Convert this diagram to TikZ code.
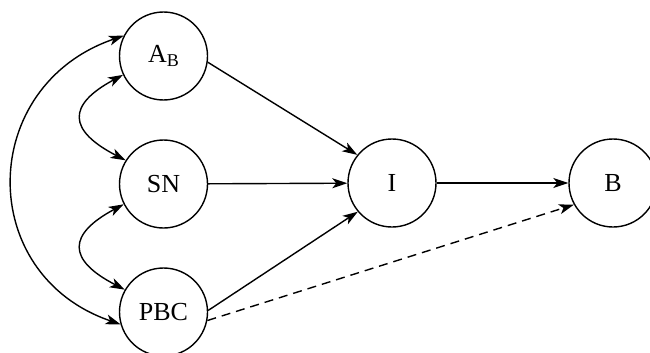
\documentclass[tikz,border=0pt]{standalone}
\usepackage{fontspec}
\setmainfont{Liberation Serif}
\usetikzlibrary{arrows.meta}
\begin{document}
\begin{tikzpicture}[x=1pt,y=-1pt,
  var/.style={circle,draw,line width=1.4pt,minimum size=88pt,inner sep=0pt,
    font=\fontsize{26}{30}\selectfont},
  conn/.style={line width=1.4pt,-{Stealth[length=15pt,width=10pt,inset=4pt]}},
  biconn/.style={line width=1.4pt,{Stealth[length=15pt,width=10pt,inset=4pt]}-{Stealth[length=15pt,width=10pt,inset=4pt]}},
  dashconn/.style={conn,dash pattern=on 9pt off 6pt}]
\useasboundingbox (0,0) rectangle (650,353);
\node[var] (AB) at (163.5,56) {A\raisebox{-0.15em}{\fontsize{18}{20}\selectfont B}};
\node[var] (SN) at (163.5,184) {SN};
\node[var] (PBC) at (163.5,312) {PBC};
\node[var] (I) at (392,183) {I};
\node[var] (B) at (613,183) {B};
\draw[conn] (AB.-8) -- (I.141);
\draw[conn] (SN) -- (I);
\draw[conn] (PBC.2) -- (I.220);
\draw[conn] (I) -- (B);
\draw[dashconn] (PBC.-11) -- (B.209);
\draw[biconn] (AB.205) .. controls +(-56,30) and +(-58,-30) .. (SN.148);
\draw[biconn] (SN.207) .. controls +(-56,30) and +(-58,-30) .. (PBC.150);
\draw[biconn] (AB.153) .. controls +(-146,50) and +(-146,-50) .. (PBC.196);
\end{tikzpicture}
\end{document}
